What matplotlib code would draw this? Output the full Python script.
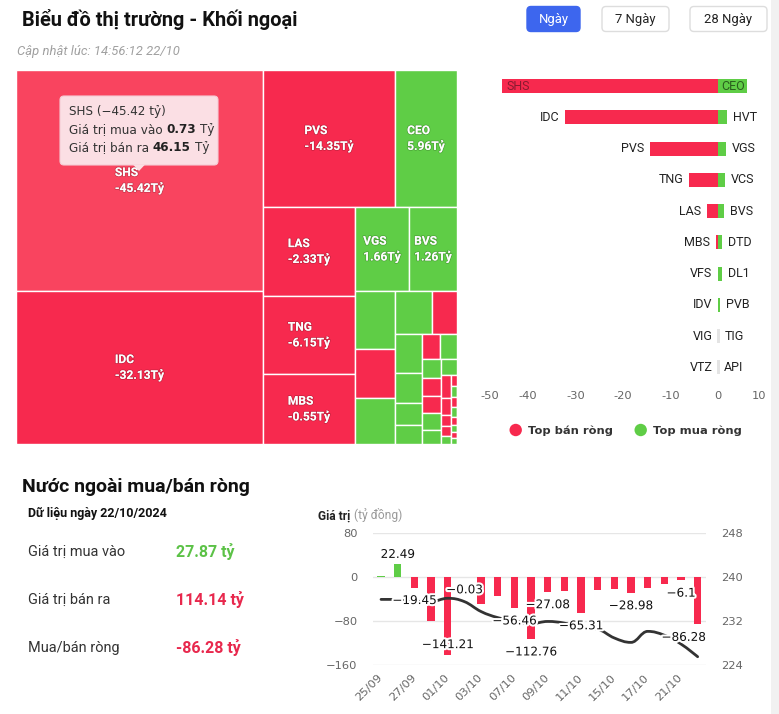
import matplotlib
matplotlib.use("Agg")
import matplotlib.pyplot as plt
from matplotlib.patches import Rectangle, FancyBboxPatch, Polygon, Circle, PathPatch
from matplotlib.path import Path
import matplotlib.patheffects as pe
from matplotlib import font_manager

# ---------------------------------------------------------------- data
# Treemap: cell size = total traded value (tỷ), colour/label = net value (tỷ)
tm_names = ["SHS", "IDC", "PVS", "CEO", "LAS", "TNG", "MBS", "VGS", "BVS",
            "HVT", "VFS", "VCS", "DTD", "IDV", "DL1", "PVB", "NTP", "PLC", "HUT",
            "TVD", "PVI", "DDG", "THD", "L14", "NVB", "HHC", "TDN", "SLS",
            "BCC", "VC3", "NBC", "PVC", "TAR", "MST", "DHT", "HLD", "SCG", "PSD", "VNR", "SD5"]
tm_size = [46.88, 32.46, 15.53, 7.29, 7.03, 6.16, 5.53, 3.90, 3.46,
           1.99, 1.68, 1.58, 1.37, 0.92, 0.89, 0.68, 0.51, 0.43, 0.39,
           0.365, 0.32, 0.29, 0.28, 0.28, 0.23, 0.22, 0.19, 0.15,
           0.09, 0.08, 0.07, 0.06, 0.06, 0.05, 0.05, 0.04, 0.04, 0.03, 0.03, 0.02]
tm_net = [-45.42, -32.13, -14.35, 5.96, -2.33, -6.15, -0.55, 1.66, 1.26,
          1.83, -0.02, 1.42, 0.80, -0.01, 0.70, 0.30, 0.21, 0.18, -0.15,
          0.12, 0.10, -0.08, -0.07, 0.06, 0.05, 0.04, -0.05, -0.04,
          -0.03, -0.03, 0.02, -0.02, 0.02, -0.02, 0.01, -0.01, 0.01, -0.01, 0.01, -0.01]
hover_name = "SHS"
tt_buy, tt_sell = 0.73, 46.15

# Top net sell / net buy bars
sell_names = ["SHS", "IDC", "PVS", "TNG", "LAS", "MBS", "VFS", "IDV", "VIG", "VTZ"]
sell_vals = [-45.42, -32.13, -14.35, -6.15, -2.33, -0.55, -0.02, -0.01, 0.0, 0.0]
buy_names = ["CEO", "HVT", "VGS", "VCS", "BVS", "DTD", "DL1", "PVB", "TIG", "API"]
buy_vals = [5.96, 1.83, 1.66, 1.42, 1.26, 0.80, 0.70, 0.30, 0.0, 0.0]
bar_ticks = [-50, -40, -30, -20, -10, 0, 10]

# Daily foreign net flow + index line
dates = ["25/09", "26/09", "27/09", "30/09", "01/10", "02/10", "03/10", "04/10", "07/10", "08/10",
         "09/10", "10/10", "11/10", "14/10", "15/10", "16/10", "17/10", "18/10", "21/10", "22/10"]
net_flow = [1.2, 22.49, -19.45, -79.5, -141.21, -0.03, -49.0, -35.0, -56.46, -112.76,
            -27.08, -26.5, -65.31, -24.5, -22.5, -28.98, -21.0, -13.5, -6.1, -86.28]
labeled_idx = [1, 2, 4, 5, 8, 9, 10, 12, 15, 18, 19]
index_line = [235.9, 235.9, 235.6, 235.5, 236.1, 235.5, 233.7, 232.6, 232.0, 231.5,
              231.9, 231.6, 230.8, 230.5, 228.9, 228.1, 230.1, 229.4, 227.8, 225.5]
left_ticks = [-160, -80, 0, 80]
right_ticks = [224, 232, 240, 248]

buy_total, sell_total, net_total = 27.87, 114.14, -86.28

# ---------------------------------------------------------------- style
W, H, DPI = 779, 714, 100
RED, RED_HOVER, GREEN = "#f7294e", "#f9445f", "#5fcd46"
avail = {f.name for f in font_manager.fontManager.ttflist}
SANS = "Roboto" if "Roboto" in avail else "DejaVu Sans"
HC = "DejaVu Sans"


def pt(px):
    return px * 72.0 / DPI


def mfmt(v):
    return f"{v:g}".replace("-", "\u2212")


fig = plt.figure(figsize=(W / DPI, H / DPI), dpi=DPI)
fig.patch.set_facecolor("white")


def px_axes(l, t, r, b):
    return fig.add_axes([l / W, 1 - b / H, (r - l) / W, (b - t) / H])


overlay = px_axes(0, 0, W, H)
overlay.set_xlim(0, W)
overlay.set_ylim(H, 0)
overlay.axis("off")
overlay.set_zorder(10)
renderer = fig.canvas.get_renderer()


def T(x, y, s, size_px, **kw):
    kw.setdefault("family", SANS)
    kw.setdefault("va", "center")
    return overlay.text(x, y, s, fontsize=pt(size_px), **kw)


def rich(x, y, parts, size_px, family, gap):
    cx = x
    for s, weight, col in parts:
        t = overlay.text(cx, y, s, fontsize=pt(size_px), family=family, fontweight=weight,
                         color=col, va="baseline", ha="left")
        cx += t.get_window_extent(renderer=renderer).width + gap


# ---------------------------------------------------------------- header
T(22, 19, "Biểu đồ thị trường - Khối ngoại", 20, fontweight="bold", color="#111111")
T(17, 52, "Cập nhật lúc: 14:56:12 22/10", 13, style="italic", color="#a0a0a0")
for (l, r, label, active) in [(527, 580, "Ngày", True), (602, 669, "7 Ngày", False),
                              (690, 767, "28 Ngày", False)]:
    overlay.add_patch(FancyBboxPatch((l, 6.5), r - l, 25, boxstyle="round,pad=0,rounding_size=4",
                                     fc="#3d66ee" if active else "white",
                                     ec="#3d66ee" if active else "#dddddd", lw=1))
    T((l + r) / 2, 19, label, 13, ha="center", color="white" if active else "#222222")


# ---------------------------------------------------------------- treemap (Highcharts squarified)
class _Group:
    def __init__(self, h, w, d):
        self.height, self.width, self.direction = h, w, d
        self.total = 0.0
        self.nW = self.lW = self.nH = self.lH = 0.0
        self.elArr = []
        self.nR = self.lR = float("nan")

    @staticmethod
    def ar(a, b):
        return max(a / b, b / a)

    def add(self, el):
        prev = self.elArr[-1] if self.elArr else None
        self.total += el
        if self.direction == 0:
            self.lW = self.nW
            self.nW = self.total / self.height
            if prev is not None:
                self.lR = self.ar(self.lW, prev / self.lW)
                self.nR = self.ar(self.nW, prev / self.nW)
        else:
            self.lH = self.nH
            self.nH = self.total / self.width
            if prev is not None:
                self.lR = self.ar(prev / self.lH, self.lH)
                self.nR = self.ar(prev / self.nH, self.nH)
        if prev is None:
            self.nR = self.lR = float("nan")
        self.elArr.append(el)

    def reset(self):
        self.nW = self.lW = 0.0
        self.elArr = []
        self.total = 0.0


def hc_squarify(values, width, height):
    total = float(sum(values))
    plot = {"x": 0.0, "y": 0.0}
    g = _Group(height, width, 0)
    out = []

    def calc(last):
        if last:
            gW, gH, items, keep = g.nW, g.nH, list(g.elArr), None
        else:
            gW, gH, items, keep = g.lW, g.lH, g.elArr[:-1], g.elArr[-1]
        for p in items:
            if g.direction == 0:
                out.append((plot["x"], plot["y"], gW, p / gW))
                plot["y"] += p / gW
            else:
                out.append((plot["x"], plot["y"], p / gH, gH))
                plot["x"] += p / gH
        g.reset()
        if g.direction == 0:
            g.width -= gW
        else:
            g.height -= gH
        plot["y"] = height - g.height
        plot["x"] = width - g.width
        g.direction = 1 - g.direction
        if keep is not None:
            g.add(keep)

    for i, v in enumerate(values):
        g.add(width * height * v / total)
        if g.nR > g.lR:
            calc(False)
        if i == len(values) - 1:
            calc(True)
    return out


TM_L, TM_T, TM_R, TM_B = 16, 70, 457, 444
TW, TH = TM_R - TM_L, TM_B - TM_T
ax_tm = px_axes(TM_L, TM_T, TM_R, TM_B)
ax_tm.set_xlim(0, TW)
ax_tm.set_ylim(TH, 0)
ax_tm.axis("off")
for name, net, (x, y, w, h) in zip(tm_names, tm_net, hc_squarify(tm_size, TW, TH)):
    col = GREEN if net > 0 else (RED_HOVER if name == hover_name else RED)
    ax_tm.add_patch(Rectangle((x, y), w, h, fc=col, ec="white", lw=1.0))
    if w > 45 and h > 35:
        ax_tm.text(x + w / 2, y + h / 2, f"{name}\n{net:.2f}Tỷ", ha="center", va="center",
                   multialignment="left", color="white", fontweight="bold", family=SANS,
                   fontsize=pt(12), linespacing=1.15,
                   path_effects=[pe.withStroke(linewidth=1.2, foreground=(0, 0, 0, 0.18))])

# tooltip over the hovered cell
overlay.add_patch(FancyBboxPatch((60, 96), 158, 69, boxstyle="round,pad=0,rounding_size=4",
                                 fc="#fbdfe4", ec="#f5ccd4", lw=0.8))
overlay.add_patch(Polygon([(133, 164.6), (145, 164.6), (139, 171)], closed=True,
                          fc="#fbdfe4", ec="none"))
rich(69, 115, [(f"{hover_name} ({mfmt(tm_net[0])} tỷ)", "normal", "#333333")], 12, HC, 0)
rich(69, 133, [("Giá trị mua vào", "normal", "#333333"), (f"{tt_buy:.2f}", "bold", "#222222"),
               ("Tỷ", "normal", "#333333")], 12, HC, 3.8)
rich(69, 151, [("Giá trị bán ra", "normal", "#333333"), (f"{tt_sell:.2f}", "bold", "#222222"),
               ("Tỷ", "normal", "#333333")], 12, HC, 3.8)

# ---------------------------------------------------------------- top sell / buy bars
ax_b = px_axes(480.3, 70.4, 765.9, 383)
rows = list(range(len(sell_names)))
ax_b.barh(rows, sell_vals, height=0.45, color=RED, zorder=2)
ax_b.barh(rows, buy_vals, height=0.45, color=GREEN, zorder=2)
for i in rows:
    if sell_vals[i] == 0 and buy_vals[i] == 0:
        ax_b.barh(i, 0.65, left=-0.35, height=0.45, color="#e4e4e4", zorder=2)
ax_b.set_xlim(bar_ticks[0], bar_ticks[-1])
ax_b.set_ylim(len(rows) - 0.5, -0.5)
ax_b.set_xticks(bar_ticks)
ax_b.set_xticklabels([str(t) for t in bar_ticks], family=HC, fontsize=pt(11.5), color="#666666")
xtl = ax_b.get_xticklabels()
xtl[0].set_ha("left")
xtl[-1].set_ha("right")
ax_b.set_yticks([])
ax_b.tick_params(axis="x", length=0, pad=6)
for s in ax_b.spines.values():
    s.set_visible(False)
ax_b.patch.set_alpha(0)

bar_labels = []
for i in rows:
    a = ax_b.annotate(sell_names[i], xy=(sell_vals[i], i), xytext=(-6, 0), textcoords="offset pixels",
                      ha="right", va="center", family=SANS, fontsize=pt(12.5), color="#222222", zorder=3)
    bar_labels.append((a, sell_vals[i], -1))
    b = ax_b.annotate(buy_names[i], xy=(buy_vals[i], i), xytext=(6, 0), textcoords="offset pixels",
                      ha="left", va="center", family=SANS, fontsize=pt(12.5), color="#222222", zorder=3)
    bar_labels.append((b, buy_vals[i], 1))

fig.canvas.draw()
axbb = ax_b.get_window_extent(renderer=renderer)
for a, v, side in bar_labels:
    bb = a.get_window_extent(renderer=renderer)
    if side < 0 and bb.x0 < axbb.x0:
        a.set_position((4, 0))
        a.set_ha("left")
        a.set_color("#8a1a30")
    elif side > 0 and bb.x1 > axbb.x1:
        a.set_position((-2, 0))
        a.set_ha("right")
        a.set_color("#2a5e1e")

# legend
overlay.add_patch(Circle((515.7, 430), 6.2, fc=RED, ec="none"))
T(528, 430.5, "Top bán ròng", 11.5, family=HC, fontweight="bold", color="#333333")
overlay.add_patch(Circle((640.7, 430), 6.2, fc=GREEN, ec="none"))
T(653, 430.5, "Top mua ròng", 11.5, family=HC, fontweight="bold", color="#333333")

# ---------------------------------------------------------------- bottom-left summary
T(22, 487, "Nước ngoài mua/bán ròng", 19.5, fontweight="bold", color="#111111")
T(28, 513, "Dữ liệu ngày 22/10/2024", 12.5, fontweight="bold", color="#111111")
for yy, lab, val, col in [(552, "Giá trị mua vào", buy_total, "#5cc247"),
                          (600, "Giá trị bán ra", sell_total, "#e8284d"),
                          (648, "Mua/bán ròng", net_total, "#e8284d")]:
    T(28, yy, lab, 14.5, color="#333333")
    T(176, yy, f"{val:.2f} tỷ", 16, fontweight="bold", color=col)

# ---------------------------------------------------------------- net flow chart
rich(318, 519.5, [("Giá trị", "bold", "#222222"), ("(tỷ đồng)", "normal", "#9a9a9a")], 12, SANS, 3.5)

ax_c = px_axes(372.7, 532.7, 706, 665)
xs = list(range(len(dates)))
ax_c.bar(xs, net_flow, width=0.44, color=[GREEN if v >= 0 else RED for v in net_flow], zorder=2)
ax_c.set_xlim(-0.5, len(dates) - 0.5)
ax_c.set_ylim(left_ticks[0], left_ticks[-1])
ax_c.set_yticks(left_ticks)
ax_c.set_yticklabels([mfmt(t) for t in left_ticks], family=HC, fontsize=pt(11.5), color="#666666")
ax_c.grid(axis="y", color="#e6e6e6", lw=1, zorder=0)
ax_c.set_xticks(xs[::2])
ax_c.set_xticklabels(dates[::2], rotation=45, ha="right", va="center", rotation_mode="anchor",
                     family=HC, fontsize=pt(11.5), color="#666666")
ax_c.tick_params(axis="y", length=0, pad=11)
ax_c.tick_params(axis="x", length=0, pad=8)
for s in ax_c.spines.values():
    s.set_visible(False)

ax_r = ax_c.twinx()
ax_r.set_ylim(right_ticks[0], right_ticks[-1])
ax_r.set_yticks(right_ticks)
ax_r.set_yticklabels([str(t) for t in right_ticks], family=HC, fontsize=pt(11.5), color="#666666")
ax_r.tick_params(axis="y", length=0, pad=11)
for s in ax_r.spines.values():
    s.set_visible(False)


def hc_spline(xv, yv, smoothing=1.5):
    n = len(xv)
    lc, rc = [None] * n, [None] * n
    den = smoothing + 1
    for i in range(1, n - 1):
        px, py = xv[i], yv[i]
        lx, ly, nx, ny = xv[i - 1], yv[i - 1], xv[i + 1], yv[i + 1]
        lcx, lcy = (smoothing * px + lx) / den, (smoothing * py + ly) / den
        rcx, rcy = (smoothing * px + nx) / den, (smoothing * py + ny) / den
        corr = ((rcy - lcy) * (rcx - px)) / (rcx - lcx) + py - rcy
        lcy += corr
        rcy += corr
        if lcy > ly and lcy > py:
            lcy = max(ly, py); rcy = 2 * py - lcy
        elif lcy < ly and lcy < py:
            lcy = min(ly, py); rcy = 2 * py - lcy
        if rcy > ny and rcy > py:
            rcy = max(ny, py); lcy = 2 * py - rcy
        elif rcy < ny and rcy < py:
            rcy = min(ny, py); lcy = 2 * py - rcy
        lc[i], rc[i] = (lcx, lcy), (rcx, rcy)
    verts, codes = [(xv[0], yv[0])], [Path.MOVETO]
    for i in range(1, n):
        verts += [rc[i - 1] or (xv[i - 1], yv[i - 1]), lc[i] or (xv[i], yv[i]), (xv[i], yv[i])]
        codes += [Path.CURVE4] * 3
    return Path(verts, codes)


ax_r.add_patch(PathPatch(hc_spline(xs, index_line), fill=False, ec="#333333", lw=2.0,
                         capstyle="round", zorder=3))

flow_labels = []
for i in labeled_idx:
    v = net_flow[i]
    a = ax_r.annotate(mfmt(v), xy=(i, v), xycoords=ax_c.transData,
                      xytext=(0, 10 if v >= 0 else -13), textcoords="offset pixels",
                      ha="center", va="center", family=HC, fontsize=pt(12), color="#111111",
                      zorder=5, path_effects=[pe.withStroke(linewidth=3, foreground="white")])
    flow_labels.append((a, v))

fig.canvas.draw()
cbb = ax_c.get_window_extent(renderer=renderer)
for a, v in flow_labels:
    bb = a.get_window_extent(renderer=renderer)
    dx, dy = a.get_position()
    if bb.y0 < cbb.y0:
        dy = 10
    if bb.x1 > cbb.x1:
        dx -= bb.x1 - cbb.x1
    a.set_position((dx, dy))

# right edge strip of the page
overlay.add_patch(Rectangle((771, 0), 8, H, fc="#f1f1f1", ec="none"))

fig.savefig("out.png", dpi=DPI, facecolor="white")
